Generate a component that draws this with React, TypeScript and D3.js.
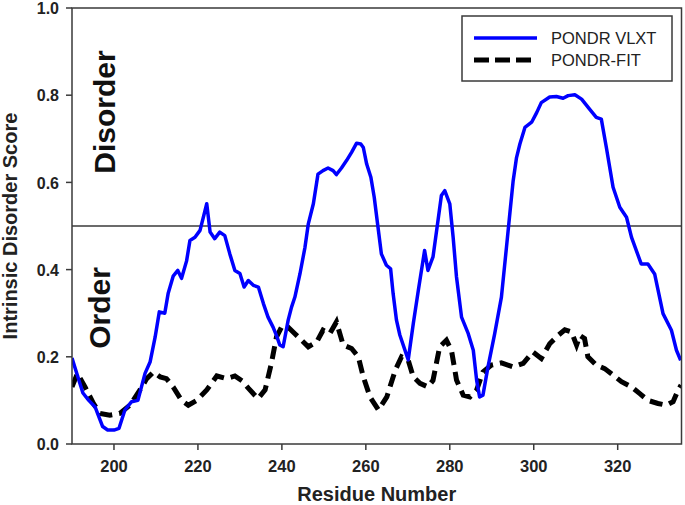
import React from "react";
import * as d3 from "d3";

const vlxtResidue = [190.0,191.2,192.6,194.0,195.5,196.5,197.3,198.5,200.0,201.2,202.6,204.2,205.7,207.4,208.6,209.8,210.8,212.1,212.9,214.1,215.2,216.1,217.3,218.1,219.3,220.5,222.1,222.9,224.0,225.2,226.4,227.6,228.8,230.0,231.0,232.0,233.2,234.4,235.6,236.7,237.9,238.7,239.5,240.3,241.5,242.3,243.1,244.3,245.5,246.3,247.5,248.6,249.8,251.0,252.2,253.0,254.2,255.4,256.6,257.8,258.8,259.4,260.2,261.2,262.0,262.9,263.7,264.9,265.9,266.5,267.3,268.1,270.1,271.3,272.5,274.0,274.8,276.0,277.2,278.0,278.8,280.0,280.8,281.6,282.8,284.4,285.6,286.4,287.1,287.9,289.1,290.7,292.3,293.5,294.3,295.1,295.9,296.7,297.9,299.5,300.7,301.8,303.8,305.4,307.0,308.2,309.8,311.4,313.3,314.9,316.1,317.3,318.9,320.5,322.1,323.3,325.6,327.2,328.8,330.8,332.8,334.0,335.0];
const vlxtScore = [0.197,0.16,0.117,0.10,0.085,0.06,0.04,0.032,0.032,0.036,0.078,0.097,0.10,0.162,0.188,0.245,0.303,0.30,0.345,0.385,0.398,0.38,0.42,0.467,0.474,0.49,0.551,0.486,0.471,0.486,0.478,0.436,0.398,0.391,0.36,0.375,0.364,0.36,0.322,0.291,0.268,0.249,0.227,0.223,0.284,0.314,0.337,0.39,0.451,0.505,0.551,0.619,0.627,0.633,0.627,0.618,0.633,0.65,0.669,0.69,0.688,0.68,0.642,0.612,0.566,0.497,0.436,0.41,0.402,0.345,0.284,0.25,0.193,0.276,0.352,0.444,0.398,0.429,0.513,0.57,0.581,0.551,0.474,0.383,0.291,0.253,0.215,0.146,0.108,0.112,0.177,0.253,0.337,0.451,0.528,0.604,0.657,0.688,0.726,0.738,0.76,0.783,0.796,0.797,0.793,0.799,0.801,0.791,0.768,0.749,0.745,0.68,0.589,0.543,0.52,0.474,0.413,0.413,0.39,0.299,0.261,0.215,0.192];

const fitResidue = [190.0,191.3,193.1,195.1,196.7,199.0,201.4,203.8,206.2,207.8,209.4,211.0,212.5,214.1,216.1,217.7,219.7,222.1,224.5,226.8,228.8,230.5,232.0,234.3,236.0,237.5,238.7,239.9,241.5,243.1,244.7,246.3,248.3,249.8,251.4,253.0,254.6,256.6,258.2,259.4,261.0,263.0,265.0,267.0,268.5,270.1,271.3,272.9,274.8,276.0,277.6,279.2,280.4,281.6,283.2,284.8,286.4,287.9,289.9,292.3,295.1,297.5,299.8,301.8,303.8,305.8,307.4,309.0,310.2,311.0,312.1,312.9,314.9,316.9,318.9,320.9,323.3,325.2,327.2,329.6,331.6,333.2,334.4,335.1];
const fitScore = [0.131,0.162,0.131,0.093,0.07,0.066,0.07,0.089,0.124,0.15,0.165,0.154,0.15,0.131,0.10,0.089,0.10,0.124,0.156,0.15,0.156,0.145,0.128,0.104,0.124,0.185,0.245,0.268,0.268,0.253,0.238,0.223,0.234,0.261,0.253,0.28,0.227,0.219,0.20,0.154,0.108,0.078,0.108,0.169,0.20,0.192,0.154,0.139,0.131,0.146,0.223,0.238,0.215,0.147,0.112,0.108,0.124,0.165,0.181,0.186,0.177,0.185,0.211,0.196,0.23,0.249,0.262,0.257,0.227,0.249,0.242,0.20,0.181,0.173,0.158,0.143,0.131,0.116,0.10,0.093,0.089,0.097,0.124,0.135];

const xTicks = [200, 220, 240, 260, 280, 300, 320];
const yTicks = [0.0, 0.2, 0.4, 0.6, 0.8, 1.0];
const xDomain = [190, 335.2];
const yDomain = [0, 1];
const threshold = 0.5;
const seriesNames = ["PONDR VLXT", "PONDR-FIT"];

const W = 685, H = 505;
const M = { left: 72, right: 3.5, top: 8, bottom: 61 };
const FONT = "'Liberation Sans', Arial, sans-serif";
const AXIS = "#3a3a3a";

export default function App() {
  const x = d3.scaleLinear().domain(xDomain).range([M.left, W - M.right]);
  const y = d3.scaleLinear().domain(yDomain).range([H - M.bottom, M.top]);
  const mk = (rs: number[], vs: number[]) =>
    d3.line<number>().x((r) => x(r)).y((_, i) => y(vs[i])).curve(d3.curveLinear)(rs) || "";
  const x0 = x(xDomain[0]), x1 = x(xDomain[1]);
  const y0 = y(0), y1 = y(1);
  return (
    <svg width={W} height={H} style={{ position: "absolute", left: 0, top: 0, background: "#fff" }} fontFamily={FONT}>
      <defs>
        <clipPath id="plot">
          <rect x={x0} y={y1} width={x1 - x0} height={y0 - y1} />
        </clipPath>
      </defs>
      <rect x={0} y={0} width={W} height={H} fill="#fff" />
      <line x1={x0} x2={x1} y1={y(threshold)} y2={y(threshold)} stroke={AXIS} strokeWidth={1.5} />
      <g clipPath="url(#plot)">
        <path d={mk(fitResidue, fitScore)} fill="none" stroke="#000" strokeWidth={5} strokeDasharray="13,7" />
        <path d={mk(vlxtResidue, vlxtScore)} fill="none" stroke="#0000ff" strokeWidth={3.5} strokeLinejoin="round" />
      </g>
      <rect x={x0} y={y1} width={x1 - x0} height={y0 - y1} fill="none" stroke={AXIS} strokeWidth={1.5} />
      {yTicks.map((t) => (
        <g key={"y" + t}>
          <line x1={x0 - 6} x2={x0} y1={y(t)} y2={y(t)} stroke={AXIS} strokeWidth={1.5} />
          <text x={x0 - 13} y={y(t) + 6.2} textAnchor="end" fontSize={16} fontWeight="bold" fill="#222">
            {t.toFixed(1)}
          </text>
        </g>
      ))}
      {xTicks.map((t) => (
        <g key={"x" + t}>
          <line x1={x(t)} x2={x(t)} y1={y0} y2={y0 + 6} stroke={AXIS} strokeWidth={1.5} />
          <text x={x(t)} y={y0 + 28} textAnchor="middle" fontSize={16.5} fontWeight="bold" fill="#222">
            {t}
          </text>
        </g>
      ))}
      <text x={(x0 + x1) / 2} y={501} textAnchor="middle" fontSize={20} fontWeight="bold" fill="#222">
        Residue Number
      </text>
      <text transform={`translate(17,${(y0 + y1) / 2}) rotate(-90)`} textAnchor="middle" fontSize={20} fontWeight="bold" fill="#222">
        Intrinsic Disorder Score
      </text>
      <text transform={`translate(115,112) rotate(-90)`} textAnchor="middle" fontSize={30} fontWeight="bold" fill="#111">
        Disorder
      </text>
      <text transform={`translate(110,308) rotate(-90)`} textAnchor="middle" fontSize={30} fontWeight="bold" fill="#111">
        Order
      </text>
      <g>
        <rect x={462} y={16} width={210} height={65} fill="#fff" stroke={AXIS} strokeWidth={1.5} />
        <line x1={474} x2={537} y1={38} y2={38} stroke="#0000ff" strokeWidth={3.5} />
        <line x1={474} x2={537} y1={60} y2={60} stroke="#000" strokeWidth={5} strokeDasharray="15,6" />
        <text x={551} y={44} fontSize={16.5} fill="#222">{seriesNames[0]}</text>
        <text x={551} y={66} fontSize={16.5} fill="#222">{seriesNames[1]}</text>
      </g>
    </svg>
  );
}
